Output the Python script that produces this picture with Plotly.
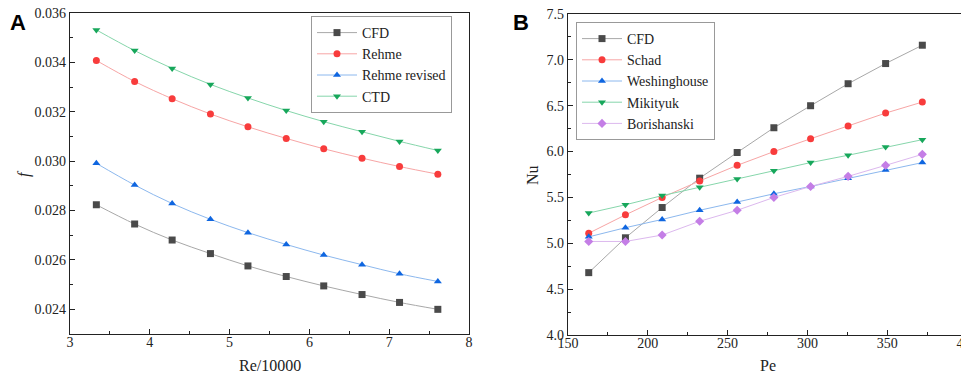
import plotly.graph_objects as go

# Panel A data
re_x = [3.33, 3.81, 4.28, 4.76, 5.23, 5.71, 6.18, 6.66, 7.13, 7.61]
f_cfd = [0.02823, 0.02745, 0.0268, 0.02625, 0.02575, 0.02532, 0.02494, 0.02459, 0.02427, 0.02399]
f_rehme = [0.03408, 0.03323, 0.03253, 0.03191, 0.03139, 0.03092, 0.0305, 0.03012, 0.02978, 0.02947]
f_rehme_rev = [0.02991, 0.02903, 0.02828, 0.02764, 0.0271, 0.02662, 0.02619, 0.0258, 0.02543, 0.02512]
f_ctd = [0.03532, 0.03448, 0.03376, 0.03311, 0.03256, 0.03205, 0.0316, 0.03119, 0.0308, 0.03043]

# Panel B data
pe_x = [163, 186, 209, 232.5, 256, 279, 302, 325.5, 349, 372]
nu_cfd = [4.68, 5.06, 5.39, 5.71, 5.99, 6.26, 6.50, 6.74, 6.96, 7.16]
nu_schad = [5.11, 5.31, 5.50, 5.68, 5.85, 6.00, 6.14, 6.28, 6.42, 6.54]
nu_wesh = [5.07, 5.17, 5.26, 5.36, 5.45, 5.54, 5.62, 5.71, 5.80, 5.88]
nu_mik = [5.33, 5.42, 5.52, 5.61, 5.70, 5.79, 5.88, 5.96, 6.05, 6.13]
nu_bor = [5.02, 5.02, 5.09, 5.24, 5.36, 5.50, 5.62, 5.73, 5.85, 5.97]

SERIF = "Liberation Serif"
SANS = "Liberation Sans"

fig = go.Figure()

def add(x, y, name, mcol, lcol, sym, xa, ya, leg, shape):
    fig.add_trace(go.Scatter(
        x=x, y=y, name=name, mode="lines+markers",
        line=dict(color=lcol, width=1, shape=shape),
        marker=dict(color=mcol, symbol=sym, size=7),
        xaxis=xa, yaxis=ya, legend=leg))

gray_m, gray_l = "#4a4a4a", "#a8a8a8"
red_m, red_l = "#f83c3c", "#f7a5a5"
blue_m, blue_l = "#0f66e0", "#8cb8ee"
green_m, green_l = "#17a75b", "#86d6ab"
vio_m, vio_l = "#c47ee6", "#dcb8ee"

add(re_x, f_cfd, "CFD", gray_m, gray_l, "square", "x", "y", "legend", "spline")
add(re_x, f_rehme, "Rehme", red_m, red_l, "circle", "x", "y", "legend", "spline")
add(re_x, f_rehme_rev, "Rehme revised", blue_m, blue_l, "triangle-up", "x", "y", "legend", "spline")
add(re_x, f_ctd, "CTD", green_m, green_l, "triangle-down", "x", "y", "legend", "spline")

add(pe_x, nu_cfd, "CFD", gray_m, gray_l, "square", "x2", "y2", "legend2", "linear")
add(pe_x, nu_schad, "Schad", red_m, red_l, "circle", "x2", "y2", "legend2", "linear")
add(pe_x, nu_wesh, "Weshinghouse", blue_m, blue_l, "triangle-up", "x2", "y2", "legend2", "linear")
add(pe_x, nu_mik, "Mikityuk", green_m, green_l, "triangle-down", "x2", "y2", "legend2", "linear")
add(pe_x, nu_bor, "Borishanski", vio_m, vio_l, "diamond", "x2", "y2", "legend2", "linear")

axis_common = dict(showline=True, linecolor="#222", linewidth=1.2, mirror=True,
                   ticks="inside", ticklen=5, tickcolor="#222", showgrid=False,
                   zeroline=False, automargin=False, ticklabeloverflow="allow",
                   tickfont=dict(family=SERIF, size=14, color="#222"))

legend_common = dict(xanchor="left", yanchor="top", bgcolor="white",
                     bordercolor="#999", borderwidth=1, itemwidth=40,
                     font=dict(family=SERIF, size=14, color="#222"),
                     tracegroupgap=0)

title_font = dict(family=SERIF, size=16, color="#222")

def title_ann(text, x, y, angle=0):
    return dict(text=text, x=x / 969, y=1 - y / 371, xref="paper", yref="paper",
                xanchor="center", yanchor="middle", showarrow=False,
                textangle=angle, font=title_font)

fig.update_layout(
    width=969, height=371, margin=dict(l=0, r=0, t=0, b=0, autoexpand=False),
    paper_bgcolor="white", plot_bgcolor="white",
    font=dict(family=SERIF, color="#222"),
    xaxis=dict(domain=[0.064, 0.4757], range=[3, 8], dtick=1, tick0=3,
               ticklabelstandoff=-5,
               minor=dict(ticks="inside", ticklen=3, dtick=0.5, tickcolor="#222"),
               anchor="y", **axis_common),
    yaxis=dict(domain=[0.1213, 0.9865], range=[0.02299, 0.036005], dtick=0.002, tick0=0.024,
               tickformat=".3f",
               minor=dict(ticks="inside", ticklen=3, dtick=0.001, tickcolor="#222"),
               anchor="x", **axis_common),
    xaxis2=dict(domain=[0.5779, 0.9897], range=[150, 400], dtick=50, tick0=150,
                ticklabelstandoff=-5,
                minor=dict(ticks="inside", ticklen=3, dtick=25, tickcolor="#222"),
                anchor="y2", **axis_common),
    yaxis2=dict(domain=[0.1186, 0.9838], range=[4.0, 7.5002], dtick=0.5, tick0=4.0,
                tickformat=".1f",
                minor=dict(ticks="inside", ticklen=3, dtick=0.25, tickcolor="#222"),
                anchor="x2", **axis_common),
    legend=dict(x=303/969, y=1-8/371, **legend_common),
    legend2=dict(x=568/969, y=1-14/371, **legend_common),
    annotations=[
        dict(text="<b>A</b>", x=0, y=1.0, xref="paper", yref="paper",
             xanchor="left", yanchor="top", showarrow=False,
             font=dict(family=SANS, size=22, color="black")),
        dict(text="<b>B</b>", x=503/969, y=1.0, xref="paper", yref="paper",
             xanchor="left", yanchor="top", showarrow=False,
             font=dict(family=SANS, size=22, color="black")),
        title_ann("Re/10000", 261.5, 357),
        title_ann("Pe", 760, 357),
        title_ann("<i>f</i>", 16, 165, -90),
        title_ann("Nu", 524, 167, -90),
    ],
)

fig.write_html("out.html")
